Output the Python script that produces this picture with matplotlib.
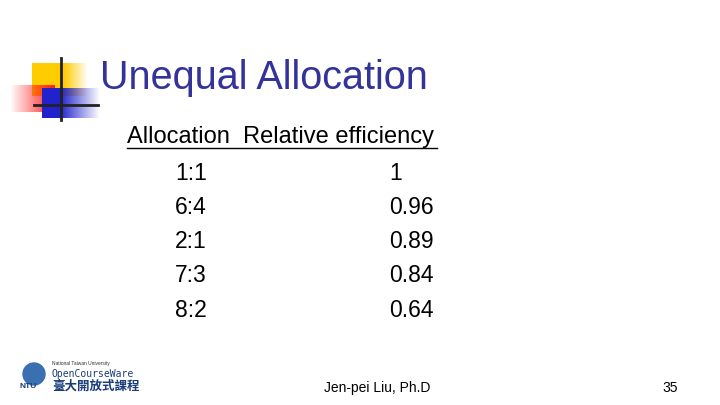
import numpy as np
import matplotlib
matplotlib.use("Agg")
import matplotlib.pyplot as plt

allocations = ["1:1", "6:4", "2:1", "7:3", "8:2"]
efficiencies = ["1", "0.96", "0.89", "0.84", "0.64"]
title = "Unequal Allocation"
headers = ["Allocation", "Relative efficiency"]
footer = "Jen-pei Liu, Ph.D"
page = "35"

fig = plt.figure(figsize=(7.2, 4.05), dpi=100)
ax = fig.add_axes([0, 0, 1, 1])
ax.set_xlim(0, 720); ax.set_ylim(405, 0); ax.axis("off")
F = "Liberation Sans"

def grad(x0, x1, y0, y1, rgb, direction):
    n = 100
    a = np.linspace(0, 1, n) if direction == "in" else np.linspace(1, 0, n)
    img = np.zeros((2, n, 4)); img[..., :3] = rgb; img[..., 3] = a
    ax.imshow(img, extent=(x0, x1, y1, y0), aspect="auto", interpolation="bilinear", zorder=1)

ax.add_patch(plt.Rectangle((32, 63), 32, 33, color="#ffcc00", zorder=1, lw=0))
grad(64, 88, 63, 96, (1, 0.8, 0), "out")
grad(10, 55, 85, 112, (1, 0.1, 0.1), "in")
ax.add_patch(plt.Rectangle((42, 88), 18, 30, color="#2222cc", zorder=2, lw=0))
grad(60, 100, 88, 118, (0.13, 0.13, 0.8), "out")
ax.plot([61, 61], [58, 120], color="#222222", lw=2, zorder=3)
ax.plot([34, 98], [105, 105], color="#222222", lw=2, zorder=3)

ax.text(100, 78, title, fontsize=28.5, family=F, color="#333399", va="center", ha="left")

ax.text(127, 137, headers[0] + "  " + headers[1], fontsize=17, family=F, va="center", ha="left")
ax.plot([127, 437], [148, 148], color="black", lw=1)
for i, (a, e) in enumerate(zip(allocations, efficiencies)):
    y = 173 + i * 34.3
    ax.text(191, y, a, fontsize=16.5, family=F, va="center", ha="center")
    ax.text(389, y, e, fontsize=16.5, family=F, va="center", ha="left")

ax.text(377, 388, footer, fontsize=10, family=F, va="center", ha="center")
ax.text(670, 388, page, fontsize=10, family=F, va="center", ha="center")

ax.add_patch(plt.Circle((34, 374), 11, color="#3a6fb0", zorder=2))
ax.text(20, 387, "NTU", fontsize=6, family=F, color="#1a3d7a", weight="bold", va="center")
ax.text(52, 364, "National Taiwan University", fontsize=3.5, family=F, color="#333333", va="center")
ax.text(52, 374, "OpenCourseWare", fontsize=7, family="DejaVu Sans Mono", color="#1a3d7a", va="center")
ax.text(52, 386, "臺大開放式課程", fontsize=9, family="Noto Sans CJK TC", color="#1a3d7a", weight="bold", va="center")

fig.savefig("out.png", dpi=100)
